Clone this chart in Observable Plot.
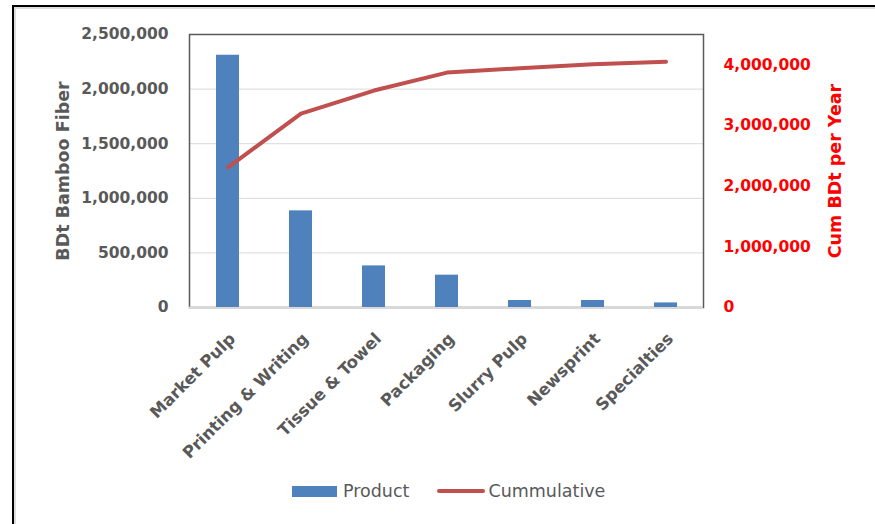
<!DOCTYPE html>
<html>
<head>
<meta charset="utf-8">
<script src="https://cdn.jsdelivr.net/npm/d3@7"></script>
<script src="https://cdn.jsdelivr.net/npm/@observablehq/plot@0.6"></script>
<style>
  html, body { margin: 0; padding: 0; background: #fff; overflow: hidden; }
  #wrap { position: relative; width: 875px; height: 524px; }
  #frame {
    position: absolute; left: 12px; top: 5px; width: 900px; height: 600px;
    border-left: 2.5px solid #000; border-top: 2px solid #000;
    box-shadow: inset 2px 2px 0 #dedede; pointer-events: none;
  }
  #legend {
    position: relative; height: 54px;
    font-family: "DejaVu Sans", sans-serif; font-size: 17.5px; color: #595959;
  }
  #legend .row { position: absolute; left: 292px; top: 10px; display: flex; align-items: center; height: 22px; }
  #legend .swatch-bar { width: 45px; height: 11px; background: #4F81BD; margin-right: 6px; }
  #legend .swatch-line { width: 48px; height: 4px; background: #C0504D; border-radius: 2px; margin-left: 28px; margin-right: 3px; }
</style>
</head>
<body>
<div id="wrap">
  <div id="chart"></div>
  <div id="legend">
    <div class="row">
      <span class="swatch-bar"></span><span>Product</span>
      <span class="swatch-line"></span><span>Cummulative</span>
    </div>
  </div>
  <div id="frame"></div>
</div>
<script>
// Product categories and their annual bamboo-fiber demand (BDt)
const categories = ["Market Pulp", "Printing & Writing", "Tissue & Towel", "Packaging", "Slurry Pulp", "Newsprint", "Specialties"];
const product = [2310000, 885000, 381000, 296000, 64000, 64000, 42000];
// Running total across categories (right axis, BDt per year)
const cumulative = [2310000, 3195000, 3576000, 3872000, 3945000, 4010000, 4050000];

// Axis tick values
const leftTicks = [0, 500000, 1000000, 1500000, 2000000, 2500000];
const rightTicks = [0, 1000000, 2000000, 3000000, 4000000];
const leftMax = 2500000;
const rightMax = 4500000;

// The right axis shares the y scale: its values are rescaled into the left domain
const k = leftMax / rightMax;
const fmt = d3.format(",");

const gray = "#595959";
const red = "#FF0000";

const chart = Plot.plot({
  width: 875,
  height: 470,
  marginTop: 34,
  marginLeft: 189,
  marginRight: 172,
  marginBottom: 163,
  style: { fontFamily: "DejaVu Sans, sans-serif", background: "white", overflow: "visible" },
  x: { type: "band", domain: categories, paddingInner: 0.69, paddingOuter: 0.345, axis: null },
  y: { domain: [0, leftMax] },
  marks: [
    Plot.gridY(leftTicks.slice(1, -1), { stroke: "#D9D9D9", strokeOpacity: 1, strokeWidth: 1 }),
    Plot.frame({ stroke: "#5a5a5a", strokeWidth: 1.5 }),
    Plot.ruleY([0], { stroke: "#D9D9D9", strokeWidth: 2 }),
    Plot.barY(categories, { x: d => d, y: product, fill: "#4F81BD" }),
    Plot.line(categories, {
      x: d => d,
      y: cumulative.map(v => v * k),
      stroke: "#C0504D", strokeWidth: 4, strokeLinecap: "round", strokeLinejoin: "round"
    }),
    // left axis
    Plot.axisY(leftTicks, {
      anchor: "left", tickSize: 0, tickPadding: 21, tickFormat: fmt, label: null,
      fontSize: 15.5, fontWeight: "bold", fill: gray
    }),
    // right axis (cumulative)
    Plot.axisY(rightTicks.map(v => v * k), {
      anchor: "right", tickSize: 0, tickPadding: 20, label: null,
      tickFormat: d => fmt(Math.round(d / k)),
      fontSize: 15.5, fontWeight: "bold", fill: red
    }),
    // category labels
    Plot.text(categories, {
      x: d => d, frameAnchor: "bottom", dx: 0, dy: 24, rotate: -45,
      textAnchor: "end", lineAnchor: "top",
      fontSize: 16.5, fontWeight: "bold", fill: gray
    }),
    // axis titles
    Plot.text(["BDt Bamboo Fiber"], {
      frameAnchor: "left", dx: -126, rotate: -90,
      textAnchor: "middle", lineAnchor: "middle",
      fontSize: 17.5, fontWeight: "bold", fill: gray
    }),
    Plot.text(["Cum BDt per Year"], {
      frameAnchor: "right", dx: 132, rotate: -90,
      textAnchor: "middle", lineAnchor: "middle",
      fontSize: 17.5, fontWeight: "bold", fill: red
    })
  ]
});

document.getElementById("chart").appendChild(chart);
</script>
</body>
</html>
